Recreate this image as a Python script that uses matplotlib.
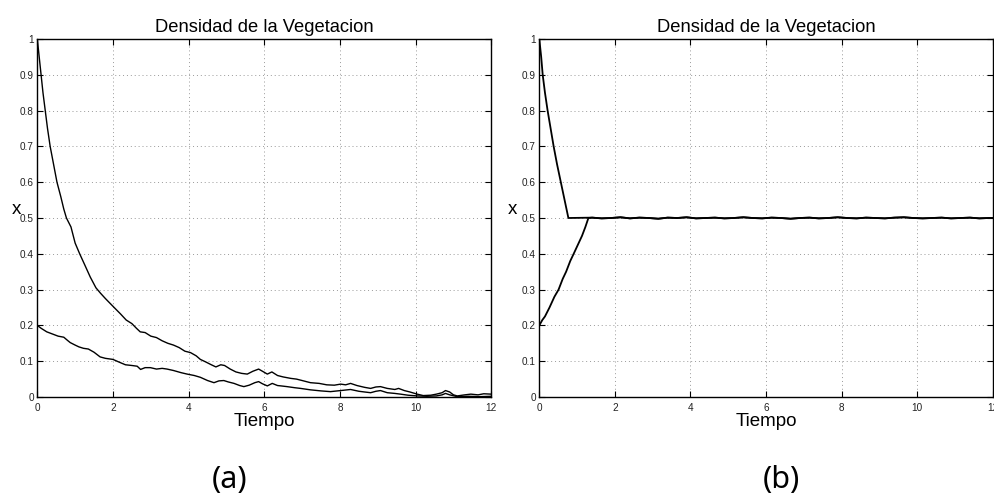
import matplotlib
matplotlib.use("Agg")
import matplotlib.pyplot as plt
import numpy as np

# --- (a) two trajectories decaying towards extinction ---
t_a_high = [0.00, 0.05, 0.10, 0.15, 0.21, 0.27, 0.34, 0.43, 0.52, 0.62, 0.70, 0.77,
            0.89, 1.00, 1.12, 1.25, 1.40, 1.55, 1.67, 1.80, 1.92, 2.05, 2.20, 2.35,
            2.50, 2.62, 2.72, 2.85, 3.00, 3.15, 3.30, 3.45, 3.60, 3.75, 3.90, 4.05,
            4.20, 4.31, 4.45, 4.60, 4.72, 4.85, 4.95, 5.10, 5.25, 5.40, 5.55, 5.70,
            5.85, 5.95, 6.08, 6.20, 6.35, 6.50, 6.70, 6.85, 7.00, 7.22, 7.45, 7.65,
            7.85, 8.02, 8.15, 8.28, 8.45, 8.65, 8.81, 8.95, 9.07, 9.25, 9.45, 9.55,
            9.70, 9.85, 10.04, 10.20, 10.40, 10.55, 10.70, 10.79, 10.90, 11.00, 11.10,
            11.30, 11.46, 11.65, 11.80, 12.00]
x_a_high = [1.000, 0.950, 0.900, 0.850, 0.800, 0.750, 0.700, 0.650, 0.600, 0.560, 0.525, 0.500,
            0.475, 0.430, 0.400, 0.370, 0.335, 0.305, 0.290, 0.275, 0.262, 0.248, 0.232, 0.215,
            0.205, 0.192, 0.182, 0.180, 0.170, 0.166, 0.157, 0.150, 0.145, 0.138, 0.128, 0.124,
            0.115, 0.105, 0.098, 0.090, 0.084, 0.090, 0.088, 0.078, 0.070, 0.066, 0.064, 0.072,
            0.078, 0.072, 0.064, 0.070, 0.060, 0.056, 0.052, 0.050, 0.046, 0.040, 0.038, 0.034,
            0.033, 0.036, 0.034, 0.038, 0.032, 0.027, 0.024, 0.028, 0.029, 0.024, 0.021, 0.024,
            0.018, 0.014, 0.008, 0.004, 0.005, 0.008, 0.012, 0.018, 0.014, 0.006, 0.003,
            0.006, 0.008, 0.006, 0.009, 0.008]

t_a_low = [0.00, 0.10, 0.25, 0.40, 0.55, 0.70, 0.80, 0.87, 1.00, 1.10, 1.22, 1.35,
           1.50, 1.66, 1.80, 2.00, 2.15, 2.33, 2.50, 2.64, 2.73, 2.85, 2.99, 3.15,
           3.30, 3.43, 3.60, 3.80, 3.96, 4.15, 4.31, 4.50, 4.67, 4.80, 4.93, 5.05,
           5.20, 5.35, 5.46, 5.60, 5.75, 5.85, 5.95, 6.08, 6.21, 6.35, 6.44, 6.60,
           6.80, 6.96, 7.22, 7.50, 7.75, 8.02, 8.28, 8.50, 8.65, 8.81, 8.95, 9.07,
           9.25, 9.45, 9.60, 9.80, 10.04, 10.30, 10.55, 10.70, 10.79, 10.90, 11.10,
           11.40, 11.70, 12.00]
x_a_low = [0.200, 0.192, 0.182, 0.176, 0.170, 0.167, 0.158, 0.152, 0.145, 0.140, 0.136, 0.134,
           0.125, 0.112, 0.108, 0.105, 0.098, 0.090, 0.088, 0.086, 0.077, 0.082, 0.082, 0.078,
           0.080, 0.078, 0.074, 0.068, 0.064, 0.060, 0.055, 0.046, 0.040, 0.045, 0.046, 0.042,
           0.038, 0.032, 0.029, 0.033, 0.040, 0.043, 0.037, 0.031, 0.038, 0.032, 0.031, 0.029,
           0.026, 0.024, 0.020, 0.017, 0.015, 0.018, 0.021, 0.016, 0.014, 0.012, 0.016, 0.018,
           0.012, 0.010, 0.008, 0.005, 0.003, 0.002, 0.003, 0.006, 0.010, 0.006, 0.001,
           0.002, 0.001, 0.002]

# --- (b) two trajectories reaching the 0.5 equilibrium ---
t_b_high = [0.00, 0.05, 0.09, 0.15, 0.22, 0.30, 0.38, 0.47, 0.57, 0.67, 0.77]
x_b_high = [1.000, 0.950, 0.900, 0.850, 0.800, 0.750, 0.700, 0.650, 0.600, 0.550, 0.500]

t_b_low = [0.00, 0.08, 0.15, 0.27, 0.40, 0.51, 0.62, 0.71, 0.82, 0.91, 1.02, 1.13, 1.22, 1.30]
x_b_low = [0.200, 0.215, 0.225, 0.250, 0.280, 0.300, 0.330, 0.350, 0.380, 0.400, 0.425, 0.450,
           0.475, 0.500]

t_plateau = [1.40, 1.65, 1.90, 2.15, 2.40, 2.65, 2.90, 3.15, 3.40, 3.65, 3.90, 4.15, 4.40,
             4.65, 4.90, 5.15, 5.40, 5.65, 5.90, 6.15, 6.40, 6.65, 6.90, 7.15, 7.40, 7.65,
             7.90, 8.15, 8.40, 8.65, 8.90, 9.15, 9.40, 9.65, 9.90, 10.15, 10.40, 10.65,
             10.90, 11.15, 11.40, 11.65, 11.90, 12.00]
x_plateau = [0.501, 0.499, 0.500, 0.502, 0.499, 0.501, 0.500, 0.498, 0.501, 0.500, 0.502, 0.499,
             0.500, 0.501, 0.499, 0.500, 0.502, 0.500, 0.499, 0.501, 0.500, 0.498, 0.500, 0.501,
             0.499, 0.500, 0.502, 0.500, 0.499, 0.501, 0.500, 0.499, 0.501, 0.502, 0.500, 0.499,
             0.500, 0.501, 0.499, 0.500, 0.501, 0.499, 0.500, 0.500]

x_ticks = [0, 2, 4, 6, 8, 10, 12]
x_ticklabels = ["0", "2", "4", "6", "8", "10", "12"]
y_ticks = [0, 0.1, 0.2, 0.3, 0.4, 0.5, 0.6, 0.7, 0.8, 0.9, 1]
y_ticklabels = ["0", "0.1", "0.2", "0.3", "0.4", "0.5", "0.6", "0.7", "0.8", "0.9", "1"]

title = "Densidad de la Vegetacion"
xlabel = "Tiempo"
ylabel = "x"
panel_tags = ["(a)", "(b)"]

W, H = 994, 496
fig = plt.figure(figsize=(W / 100, H / 100), dpi=100)
fig.patch.set_facecolor("white")

FONT = ["Liberation Sans", "DejaVu Sans"]


def px_axes(x0, x1, ytop, ybot):
    return fig.add_axes([x0 / W, 1 - ybot / H, (x1 - x0) / W, (ybot - ytop) / H])


def style(ax, ylabel_x):
    ax.set_xlim(0, 12)
    ax.set_ylim(0, 1)
    ax.set_xticks(x_ticks)
    ax.set_xticklabels(x_ticklabels, fontfamily=FONT, fontsize=7.2)
    ax.set_yticks(y_ticks)
    ax.set_yticklabels(y_ticklabels, fontfamily=FONT, fontsize=7.2)
    ax.tick_params(direction="in", length=4, width=0.8, top=True, right=True,
                   colors="black", labelcolor="#222222")
    ax.tick_params(axis="x", pad=4)
    ax.tick_params(axis="y", pad=2.5)
    ax.grid(True, color="#999999", linestyle=(0, (1, 3)), linewidth=0.7)
    for s in ax.spines.values():
        s.set_linewidth(1.0)
        s.set_color("black")
    ax.set_title(title, fontfamily=FONT, fontsize=13.2, pad=5)
    ax.set_xlabel(xlabel, fontfamily=FONT, fontsize=13.5)
    ax.xaxis.label.set_va("center")
    ax.xaxis.set_label_coords(0.5, -25 / 358)
    ax.set_ylabel(ylabel, fontfamily=FONT, fontsize=13.5, rotation=0)
    ax.yaxis.label.set_va("center")
    ax.yaxis.label.set_ha("center")
    ax.yaxis.set_label_coords(ylabel_x, 0.525)


ax_a = px_axes(37.3, 491.3, 39, 397)
ax_a.plot(t_a_high, x_a_high, color="black", lw=1.0)
ax_a.plot(t_a_low, x_a_low, color="black", lw=1.0)
style(ax_a, -21 / 454)

ax_b = px_axes(539.3, 992.6, 39, 397)
ax_b.plot(t_b_high + t_plateau, x_b_high + x_plateau, color="black", lw=1.3)
ax_b.plot(t_b_low + t_plateau, x_b_low + x_plateau, color="black", lw=1.3)
style(ax_b, -27 / 453)

for tag, cx in zip(panel_tags, [230, 781]):
    fig.text(cx / W, 1 - 488 / H, tag, fontfamily=["Noto Sans", "DejaVu Sans"],
             fontsize=22, ha="center", va="baseline")

fig.savefig("out.png", dpi=100, facecolor="white")
